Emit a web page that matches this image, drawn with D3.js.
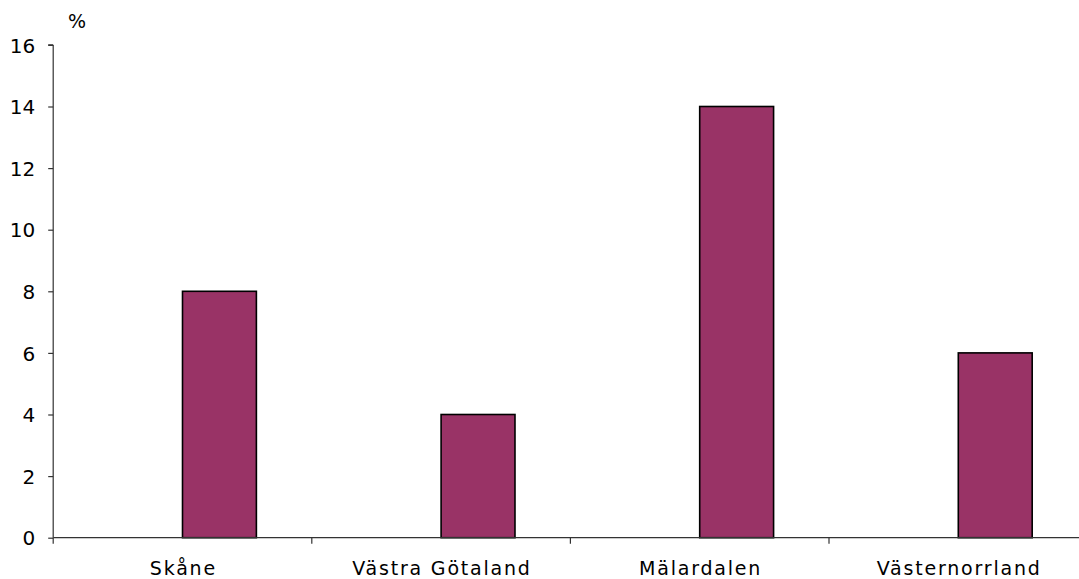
<!DOCTYPE html>
<html>
<head>
<meta charset="utf-8">
<script src="https://cdn.jsdelivr.net/npm/d3@7"></script>
<style>
  html, body { margin: 0; padding: 0; background: #ffffff; }
  svg { display: block; }
</style>
</head>
<body>
<svg id="chart" width="1079" height="579"></svg>
<script>
// ---- data ----
const categories = ["Skåne", "Västra Götaland", "Mälardalen", "Västernorrland"];
const values = [8, 4, 14, 6];
const yTicks = [0, 2, 4, 6, 8, 10, 12, 14, 16];
const yUnit = "%";

// ---- layout ----
const W = 1079, H = 579;
const mLeft = 53.2, mRight = 1087.6, mTop = 44.9, mBottom = 537.7;
const svg = d3.select("#chart");

const x0 = d3.scaleBand().domain(categories).range([mLeft, mRight]).paddingInner(0).paddingOuter(0);
// two slots per category (Excel clustered layout, first slot empty)
const x1 = d3.scaleBand().domain([0, 1]).range([0, x0.bandwidth()]).paddingInner(0).paddingOuter(0.75);
const y = d3.scaleLinear().domain([0, 16]).range([mBottom, mTop]);

const axisColor = "#333333";
const fontFam = "'DejaVu Sans', Verdana, sans-serif";

// bars
svg.append("g").selectAll("rect")
  .data(categories.map((c, i) => ({ c, v: values[i] })))
  .join("rect")
  .attr("x", d => x0(d.c) + x1(1))
  .attr("y", d => y(d.v))
  .attr("width", x1.bandwidth())
  .attr("height", d => y(0) - y(d.v))
  .attr("fill", "#993366")
  .attr("stroke", "#000000")
  .attr("stroke-width", 1.6);

// y axis
const yAxis = svg.append("g")
  .attr("transform", `translate(${mLeft},0)`)
  .call(d3.axisLeft(y).tickValues(yTicks).tickSize(5).tickPadding(13).tickFormat(d3.format("d")));
yAxis.select(".domain").attr("stroke", axisColor).attr("stroke-width", 1.2).attr("d", `M0,${mTop}H-5M0,${mTop}V${mBottom}`);
yAxis.selectAll(".tick line").attr("stroke", axisColor).attr("stroke-width", 1.2);
yAxis.selectAll(".tick text")
  .attr("fill", "#000").attr("font-family", fontFam).attr("font-size", 20).attr("dy", "0.36em");

// x axis baseline
svg.append("line")
  .attr("x1", mLeft).attr("x2", W).attr("y1", mBottom).attr("y2", mBottom)
  .attr("stroke", axisColor).attr("stroke-width", 1.2);
// x ticks at band boundaries
const boundaries = categories.map(c => x0(c));
svg.append("g").selectAll("line")
  .data(boundaries)
  .join("line")
  .attr("x1", d => d).attr("x2", d => d)
  .attr("y1", mBottom).attr("y2", mBottom + 6)
  .attr("stroke", axisColor).attr("stroke-width", 1.2);

// category labels
const ls = 1.8;
svg.append("g").selectAll("text")
  .data(categories)
  .join("text")
  .attr("x", d => x0(d) + x0.bandwidth() / 2 + ls / 2)
  .attr("y", 575)
  .attr("text-anchor", "middle")
  .attr("font-family", fontFam)
  .attr("font-size", 19)
  .attr("letter-spacing", ls)
  .attr("fill", "#000")
  .text(d => d);

// unit label
svg.append("text")
  .attr("x", 68).attr("y", 28)
  .attr("font-family", fontFam)
  .attr("font-size", 19)
  .attr("fill", "#000")
  .text(yUnit);
</script>
</body>
</html>
